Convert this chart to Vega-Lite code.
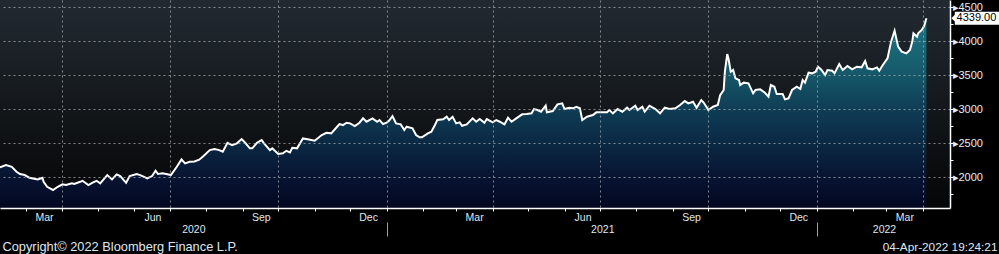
{
 "$schema": "https://vega.github.io/schema/vega-lite/v6.json",
 "width": 950,
 "height": 208,
 "autosize": {"type": "none"},
 "padding": {"left": 0, "top": 0, "right": 49, "bottom": 46},
 "background": "#000000",
 "config": {
  "font": "Liberation Sans",
  "view": {"stroke": null, "fill": {"gradient": "linear", "x1": 0, "y1": 0, "x2": 0, "y2": 1, "stops": [{"offset": 0, "color": "#222a31"}, {"offset": 0.5, "color": "#14181c"}, {"offset": 0.75, "color": "#0c0e10"}, {"offset": 1, "color": "#050607"}]}}
 },
 "datasets": {
  "px": [
   {"date": "2020-02-08", "close": 2147}, {"date": "2020-02-13", "close": 2181}, {"date": "2020-02-18", "close": 2156}, {"date": "2020-02-22", "close": 2082}, {"date": "2020-02-25", "close": 2049}, {"date": "2020-02-29", "close": 2034},
   {"date": "2020-03-04", "close": 1994}, {"date": "2020-03-07", "close": 1985}, {"date": "2020-03-11", "close": 1970}, {"date": "2020-03-15", "close": 1994}, {"date": "2020-03-16", "close": 1935}, {"date": "2020-03-19", "close": 1862}, {"date": "2020-03-23", "close": 1824}, {"date": "2020-03-24", "close": 1813}, {"date": "2020-03-28", "close": 1862},
   {"date": "2020-04-01", "close": 1897}, {"date": "2020-04-04", "close": 1887}, {"date": "2020-04-09", "close": 1912}, {"date": "2020-04-11", "close": 1902}, {"date": "2020-04-16", "close": 1935}, {"date": "2020-04-18", "close": 1950}, {"date": "2020-04-23", "close": 1887}, {"date": "2020-04-27", "close": 1926}, {"date": "2020-04-30", "close": 1950},
   {"date": "2020-05-03", "close": 1912}, {"date": "2020-05-09", "close": 2034}, {"date": "2020-05-13", "close": 1970}, {"date": "2020-05-17", "close": 2044}, {"date": "2020-05-20", "close": 2019}, {"date": "2020-05-25", "close": 1920}, {"date": "2020-05-28", "close": 2019},
   {"date": "2020-06-03", "close": 2049}, {"date": "2020-06-06", "close": 2034}, {"date": "2020-06-12", "close": 1985}, {"date": "2020-06-16", "close": 2019}, {"date": "2020-06-19", "close": 2097}, {"date": "2020-06-21", "close": 2049}, {"date": "2020-06-25", "close": 2059}, {"date": "2020-06-28", "close": 2049},
   {"date": "2020-07-02", "close": 2034}, {"date": "2020-07-07", "close": 2156}, {"date": "2020-07-11", "close": 2265}, {"date": "2020-07-14", "close": 2206}, {"date": "2020-07-18", "close": 2229}, {"date": "2020-07-22", "close": 2235}, {"date": "2020-07-26", "close": 2260}, {"date": "2020-07-29", "close": 2303},
   {"date": "2020-08-04", "close": 2401}, {"date": "2020-08-08", "close": 2416}, {"date": "2020-08-12", "close": 2401}, {"date": "2020-08-15", "close": 2377}, {"date": "2020-08-19", "close": 2509}, {"date": "2020-08-23", "close": 2475}, {"date": "2020-08-27", "close": 2500}, {"date": "2020-08-31", "close": 2563},
   {"date": "2020-09-03", "close": 2509}, {"date": "2020-09-07", "close": 2427}, {"date": "2020-09-09", "close": 2427}, {"date": "2020-09-13", "close": 2509}, {"date": "2020-09-17", "close": 2548}, {"date": "2020-09-19", "close": 2500}, {"date": "2020-09-24", "close": 2401}, {"date": "2020-09-26", "close": 2427},
   {"date": "2020-10-01", "close": 2343}, {"date": "2020-10-05", "close": 2353}, {"date": "2020-10-08", "close": 2391}, {"date": "2020-10-11", "close": 2368}, {"date": "2020-10-13", "close": 2436}, {"date": "2020-10-17", "close": 2427}, {"date": "2020-10-22", "close": 2573}, {"date": "2020-10-26", "close": 2559},
   {"date": "2020-11-01", "close": 2538}, {"date": "2020-11-07", "close": 2622}, {"date": "2020-11-11", "close": 2656}, {"date": "2020-11-15", "close": 2647}, {"date": "2020-11-20", "close": 2744}, {"date": "2020-11-22", "close": 2784}, {"date": "2020-11-25", "close": 2769}, {"date": "2020-11-28", "close": 2803},
   {"date": "2020-12-01", "close": 2794}, {"date": "2020-12-05", "close": 2754}, {"date": "2020-12-09", "close": 2803}, {"date": "2020-12-12", "close": 2868}, {"date": "2020-12-15", "close": 2818}, {"date": "2020-12-20", "close": 2868}, {"date": "2020-12-24", "close": 2818}, {"date": "2020-12-26", "close": 2843}, {"date": "2020-12-29", "close": 2784},
   {"date": "2021-01-01", "close": 2803}, {"date": "2021-01-03", "close": 2832}, {"date": "2021-01-06", "close": 2901}, {"date": "2021-01-09", "close": 2794}, {"date": "2021-01-13", "close": 2779}, {"date": "2021-01-16", "close": 2696}, {"date": "2021-01-18", "close": 2744}, {"date": "2021-01-23", "close": 2720}, {"date": "2021-01-26", "close": 2622}, {"date": "2021-01-29", "close": 2588}, {"date": "2021-01-31", "close": 2588},
   {"date": "2021-02-05", "close": 2647}, {"date": "2021-02-08", "close": 2671}, {"date": "2021-02-11", "close": 2769}, {"date": "2021-02-13", "close": 2843}, {"date": "2021-02-18", "close": 2853}, {"date": "2021-02-21", "close": 2891}, {"date": "2021-02-23", "close": 2843}, {"date": "2021-02-26", "close": 2891},
   {"date": "2021-03-01", "close": 2794}, {"date": "2021-03-04", "close": 2809}, {"date": "2021-03-06", "close": 2759}, {"date": "2021-03-10", "close": 2779}, {"date": "2021-03-15", "close": 2868}, {"date": "2021-03-18", "close": 2818}, {"date": "2021-03-21", "close": 2857}, {"date": "2021-03-25", "close": 2803}, {"date": "2021-03-27", "close": 2857},
   {"date": "2021-04-01", "close": 2809}, {"date": "2021-04-04", "close": 2843}, {"date": "2021-04-07", "close": 2818}, {"date": "2021-04-11", "close": 2779}, {"date": "2021-04-14", "close": 2877}, {"date": "2021-04-17", "close": 2818}, {"date": "2021-04-21", "close": 2868}, {"date": "2021-04-26", "close": 2927}, {"date": "2021-04-30", "close": 2931},
   {"date": "2021-05-04", "close": 2941}, {"date": "2021-05-06", "close": 3004}, {"date": "2021-05-09", "close": 2990}, {"date": "2021-05-12", "close": 2965}, {"date": "2021-05-16", "close": 3053}, {"date": "2021-05-17", "close": 2956}, {"date": "2021-05-22", "close": 2975}, {"date": "2021-05-26", "close": 3074}, {"date": "2021-05-30", "close": 3088},
   {"date": "2021-06-01", "close": 3004}, {"date": "2021-06-05", "close": 3024}, {"date": "2021-06-08", "close": 3015}, {"date": "2021-06-11", "close": 3038}, {"date": "2021-06-14", "close": 3015}, {"date": "2021-06-16", "close": 2843}, {"date": "2021-06-20", "close": 2891}, {"date": "2021-06-25", "close": 2916}, {"date": "2021-06-28", "close": 2956},
   {"date": "2021-07-03", "close": 2956}, {"date": "2021-07-07", "close": 2956}, {"date": "2021-07-09", "close": 2990}, {"date": "2021-07-12", "close": 2941}, {"date": "2021-07-16", "close": 3004}, {"date": "2021-07-20", "close": 2965}, {"date": "2021-07-24", "close": 3024}, {"date": "2021-07-26", "close": 2990}, {"date": "2021-07-31", "close": 3053},
   {"date": "2021-08-02", "close": 2990}, {"date": "2021-08-06", "close": 3038}, {"date": "2021-08-08", "close": 2965}, {"date": "2021-08-12", "close": 3053}, {"date": "2021-08-17", "close": 3004}, {"date": "2021-08-21", "close": 2941}, {"date": "2021-08-25", "close": 3024}, {"date": "2021-08-29", "close": 3004},
   {"date": "2021-09-03", "close": 3015}, {"date": "2021-09-07", "close": 3063}, {"date": "2021-09-11", "close": 3122}, {"date": "2021-09-14", "close": 3088}, {"date": "2021-09-18", "close": 3112}, {"date": "2021-09-21", "close": 3024}, {"date": "2021-09-25", "close": 3137}, {"date": "2021-09-27", "close": 3100},
   {"date": "2021-10-01", "close": 2990}, {"date": "2021-10-05", "close": 3038}, {"date": "2021-10-09", "close": 3063}, {"date": "2021-10-11", "close": 3210}, {"date": "2021-10-14", "close": 3284}, {"date": "2021-10-15", "close": 3553}, {"date": "2021-10-17", "close": 3813}, {"date": "2021-10-18", "close": 3750}, {"date": "2021-10-20", "close": 3553}, {"date": "2021-10-22", "close": 3578}, {"date": "2021-10-24", "close": 3456}, {"date": "2021-10-27", "close": 3431}, {"date": "2021-10-28", "close": 3357}, {"date": "2021-10-31", "close": 3392},
   {"date": "2021-11-04", "close": 3382}, {"date": "2021-11-08", "close": 3235}, {"date": "2021-11-10", "close": 3284}, {"date": "2021-11-14", "close": 3294}, {"date": "2021-11-18", "close": 3244}, {"date": "2021-11-21", "close": 3186}, {"date": "2021-11-23", "close": 3357}, {"date": "2021-11-26", "close": 3332}, {"date": "2021-11-28", "close": 3225},
   {"date": "2021-12-03", "close": 3225}, {"date": "2021-12-05", "close": 3147}, {"date": "2021-12-08", "close": 3162}, {"date": "2021-12-11", "close": 3284}, {"date": "2021-12-15", "close": 3332}, {"date": "2021-12-18", "close": 3300}, {"date": "2021-12-20", "close": 3431}, {"date": "2021-12-22", "close": 3392}, {"date": "2021-12-25", "close": 3539}, {"date": "2021-12-28", "close": 3529}, {"date": "2021-12-31", "close": 3553},
   {"date": "2022-01-02", "close": 3627}, {"date": "2022-01-05", "close": 3578}, {"date": "2022-01-08", "close": 3504}, {"date": "2022-01-10", "close": 3578}, {"date": "2022-01-14", "close": 3568}, {"date": "2022-01-16", "close": 3529}, {"date": "2022-01-20", "close": 3666}, {"date": "2022-01-23", "close": 3578}, {"date": "2022-01-27", "close": 3637}, {"date": "2022-01-31", "close": 3588},
   {"date": "2022-02-04", "close": 3627}, {"date": "2022-02-08", "close": 3617}, {"date": "2022-02-11", "close": 3710}, {"date": "2022-02-13", "close": 3603}, {"date": "2022-02-17", "close": 3588}, {"date": "2022-02-21", "close": 3617}, {"date": "2022-02-23", "close": 3568}, {"date": "2022-02-26", "close": 3651},
   {"date": "2022-03-02", "close": 3750}, {"date": "2022-03-05", "close": 3995}, {"date": "2022-03-08", "close": 4155}, {"date": "2022-03-11", "close": 3921}, {"date": "2022-03-14", "close": 3848}, {"date": "2022-03-18", "close": 3823}, {"date": "2022-03-21", "close": 3872}, {"date": "2022-03-23", "close": 3995}, {"date": "2022-03-24", "close": 4118}, {"date": "2022-03-27", "close": 4069}, {"date": "2022-03-28", "close": 4118}, {"date": "2022-03-31", "close": 4167},
   {"date": "2022-04-02", "close": 4225}, {"date": "2022-04-04", "close": 4339}
  ],
  "last": [{"date": "2022-04-04", "close": 4339}]
 },
 "resolve": {"axis": {"x": "independent", "y": "independent"}},
 "layer": [
  {
   "data": {"name": "px"},
   "mark": {
    "type": "area",
    "interpolate": "linear",
    "color": {"gradient": "linear", "x1": 0, "y1": 0, "x2": 0, "y2": 1, "stops": [
     {"offset": 0, "color": "#1d94a6"}, {"offset": 0.12, "color": "#1a8a9c"}, {"offset": 0.3, "color": "#147086"}, {"offset": 0.48, "color": "#0d4d6e"}, {"offset": 0.66, "color": "#0a3358"}, {"offset": 0.84, "color": "#061842"}, {"offset": 1, "color": "#03082c"}]},
    "line": {"color": "#ffffff", "strokeWidth": 2}
   },
   "encoding": {
    "x": {
     "field": "date", "type": "temporal",
     "scale": {"type": "utc", "nice": false, "domain": [{"year": 2020, "month": 2, "date": 8, "utc": true}, {"year": 2022, "month": 4, "date": 24, "utc": true}]},
     "axis": {
      "orient": "bottom", "title": null, "zindex": 1,
      "tickCount": {"interval": "month", "step": 1},
      "labelExpr": "indexof([2,5,8,11], utcmonth(datum.value)) >= 0 ? utcFormat(datum.value, '%b') : ''",
      "labelOffset": 18, "labelFlush": false, "labelOverlap": false, "labelPadding": 1,
      "labelFontSize": 10.5, "labelColor": "#dfe8f0",
      "tickSize": 3, "tickColor": "#ffffff", "tickWidth": 1,
      "domainColor": "#ffffff", "domainWidth": 1.5,
      "grid": true, "gridColor": "#a9adb2", "gridDash": [2, 3], "gridWidth": 1,
      "gridOpacity": {"condition": {"test": "utcmonth(datum.value) % 3 === 0", "value": 0.75}, "value": 0}
     }
    },
    "y": {
     "field": "close", "type": "quantitative",
     "scale": {"domain": [1550, 4607], "zero": false, "nice": false},
     "axis": {
      "orient": "right", "title": null, "zindex": 1,
      "values": [1750, 2000, 2250, 2500, 2750, 3000, 3250, 3500, 3750, 4000, 4250, 4500],
      "format": "d",
      "labelExpr": "datum.value % 500 === 0 ? '▸' + datum.label : ''",
      "labelPadding": -1, "labelFontSize": 11, "labelColor": "#e6edf3", "labelFlush": false, "labelOverlap": false,
      "tickSize": 3, "tickColor": "#ffffff",
      "domainColor": "#ffffff", "domainWidth": 1.5,
      "grid": true, "gridColor": "#a9adb2", "gridDash": [2, 3], "gridWidth": 1,
      "gridOpacity": {"condition": {"test": "datum.value % 500 === 0", "value": 0.75}, "value": 0}
     }
    },
    "y2": {"datum": 1550}
   }
  },
  {
   "data": {"name": "last"},
   "mark": {"type": "point", "shape": "M-1,0L-0.86,-0.14L-0.86,-0.27L1,-0.27L1,0.27L-0.86,0.27L-0.86,0.14Z", "size": 2304, "filled": true, "color": "#ffffff", "opacity": 1, "xOffset": 49},
   "encoding": {
    "x": {
     "field": "date", "type": "temporal",
     "scale": {"type": "utc", "nice": false, "domain": [{"year": 2020, "month": 2, "date": 8, "utc": true}, {"year": 2022, "month": 4, "date": 24, "utc": true}]},
     "axis": {
      "orient": "bottom",
      "values": [{"year": 2020, "month": 7, "date": 21, "utc": true}, {"year": 2021, "month": 7, "date": 3, "utc": true}, {"year": 2022, "month": 2, "date": 27, "utc": true}],
      "labelExpr": "'' + utcyear(datum.value)",
      "ticks": false, "tickSize": 0, "domain": false, "grid": false,
      "labelPadding": 16, "labelFlush": false, "labelOverlap": false, "labelFontSize": 10.5, "labelColor": "#dfe8f0",
      "title": "Copyright© 2022 Bloomberg Finance L.P.",
      "titleX": 2, "titleY": 42.5, "titleAlign": "left", "titleAnchor": "start", "titleBaseline": "alphabetic",
      "titleFontWeight": "normal", "titleFontSize": 12.8, "titleColor": "#dfe8f0"
     }
    },
    "y": {"field": "close", "type": "quantitative", "scale": {"domain": [1550, 4607], "zero": false, "nice": false}, "axis": null}
   }
  },
  {
   "data": {"name": "last"},
   "mark": {"type": "text", "dx": 50, "align": "center", "baseline": "middle", "color": "#000000", "fontSize": 11},
   "encoding": {
    "x": {
     "field": "date", "type": "temporal",
     "scale": {"type": "utc", "nice": false, "domain": [{"year": 2020, "month": 2, "date": 8, "utc": true}, {"year": 2022, "month": 4, "date": 24, "utc": true}]},
     "axis": {
      "orient": "bottom",
      "values": [{"year": 2021, "month": 1, "date": 1, "utc": true}, {"year": 2022, "month": 1, "date": 1, "utc": true}],
      "labels": false, "domain": false, "grid": false,
      "ticks": true, "tickSize": 14, "tickColor": "#9aa0a6", "tickWidth": 1, "offset": 14,
      "title": "04-Apr-2022 19:24:21",
      "titleX": 997, "titleY": 28.5, "titleAlign": "right", "titleAnchor": "end", "titleBaseline": "alphabetic",
      "titleFontWeight": "normal", "titleFontSize": 11.8, "titleColor": "#dfe8f0"
     }
    },
    "y": {"field": "close", "type": "quantitative", "scale": {"domain": [1550, 4607], "zero": false, "nice": false}, "axis": null},
    "text": {"field": "close", "type": "quantitative", "format": ".2f"}
   }
  }
 ]
}
